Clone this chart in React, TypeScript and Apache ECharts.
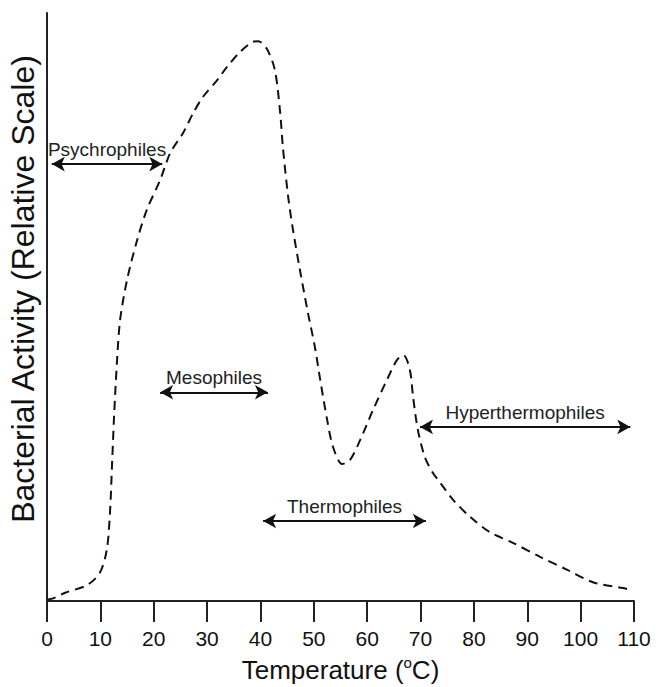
import React, { useEffect, useRef } from "react";
import * as echarts from "echarts";

const xTicks = [0, 10, 20, 30, 40, 50, 60, 70, 80, 90, 100, 110];

const temperature = [
  0, 1.3, 3.4, 7.5, 9.9, 11.2, 11.8, 12.2, 12.6, 13.1, 13.7, 15.0, 16.9, 18.7,
  21.2, 23.1, 25.5, 27.4, 29.2, 31.9, 33.7, 36.2, 38.6, 39.6, 41.2, 42.7, 43.7,
  44.2, 45.2, 46.1, 47.4, 48.9, 50.2, 51.2, 52.5, 53.6, 55.3, 56.8, 58.7, 61.1,
  63.7, 65.6, 66.8, 68.0, 68.6, 69.5, 70.8, 72.3, 73.7, 76.1, 79.3, 83.0, 87.3,
  92.4, 97.5, 102.3, 107.9, 108.9,
];

const activity = [
  0.2, 0.5, 1.4, 2.7, 4.8, 8.7, 15.0, 23.5, 32.0, 40.5, 47.8, 54.6, 61.4, 66.5,
  71.6, 76.2, 79.6, 83.0, 85.7, 88.6, 90.8, 93.4, 95.1, 95.2, 93.9, 90.3, 83.0,
  77.2, 68.7, 63.1, 56.3, 49.0, 43.2, 37.6, 30.8, 26.2, 23.3, 24.0, 27.4, 32.5,
  37.6, 41.0, 41.8, 39.3, 34.7, 29.1, 24.5, 21.8, 20.1, 17.2, 14.3, 11.7, 9.9,
  7.5, 5.3, 3.2, 2.2, 2.0,
];

const rangeNames = ["Psychrophiles", "Mesophiles", "Thermophiles", "Hyperthermophiles"];
const rangeStart = [0.9, 21.2, 40.5, 69.9];
const rangeEnd = [21.6, 41.4, 71.0, 109.3];
const rangeLevel = [74.3, 35.5, 13.6, 29.6];

const yTitle = "Bacterial Activity (Relative Scale)";

export default function App() {
  const ref = useRef<HTMLDivElement>(null);

  useEffect(() => {
    if (!ref.current) return;
    const chart = echarts.init(ref.current, null, { renderer: "svg" });
    const font = "Liberation Sans, Arial, Helvetica, sans-serif";
    const curve = temperature.map((t, i) => [t, activity[i]]);
    const markData = rangeNames.map((name, i) => [
      { name, coord: [rangeStart[i], rangeLevel[i]] },
      { coord: [rangeEnd[i], rangeLevel[i]] },
    ]);

    chart.setOption({
      animation: false,
      backgroundColor: "#ffffff",
      grid: {
        left: 47,
        right: 25,
        top: 13,
        bottom: 86,
        containLabel: false,
        outerBoundsMode: "none",
      },
      graphic: [
        {
          type: "text",
          x: 23,
          y: 289,
          rotation: Math.PI / 2,
          silent: true,
          style: {
            text: yTitle,
            fontFamily: font,
            fontSize: 32,
            fill: "#111",
            align: "center",
            verticalAlign: "middle",
          },
        },
      ],
      xAxis: {
        type: "value",
        min: 0,
        max: 110,
        interval: 10,
        name: "Temperature ({sup|o}C)",
        nameLocation: "middle",
        nameGap: 54,
        nameTextStyle: {
          fontFamily: font,
          fontSize: 26,
          color: "#111",
          lineHeight: 30,
          rich: {
            sup: {
              fontFamily: font,
              fontSize: 15,
              color: "#111",
              verticalAlign: "top",
              lineHeight: 16,
            },
          },
        },
        axisLine: { show: true, onZero: false, lineStyle: { color: "#222", width: 2 } },
        axisTick: { show: true, inside: false, length: 21, lineStyle: { color: "#222", width: 2 } },
        axisLabel: {
          fontFamily: font,
          fontSize: 21,
          color: "#111",
          margin: 27,
          formatter: (v: number) => (xTicks.includes(v) ? String(v) : ""),
        },
        splitLine: { show: false },
      },
      yAxis: {
        type: "value",
        min: 0,
        max: 100,
        axisLine: { show: true, onZero: false, lineStyle: { color: "#222", width: 2 } },
        axisTick: { show: false },
        axisLabel: { show: false },
        splitLine: { show: false },
      },
      series: [
        {
          type: "line",
          data: curve,
          smooth: 0.3,
          symbol: "none",
          lineStyle: { color: "#111", width: 2, type: [9, 6] },
          silent: true,
          markLine: {
            silent: true,
            symbol: ["arrow", "arrow"],
            symbolSize: [11, 13],
            lineStyle: { color: "#111", width: 2, type: "solid" },
            label: {
              show: true,
              position: "insideMiddleTop",
              distance: 5,
              formatter: "{b}",
              fontFamily: font,
              fontSize: 19,
              color: "#222",
            },
            emphasis: { disabled: true },
            data: markData,
          },
        },
      ],
    });

    return () => chart.dispose();
  }, []);

  return (
    <div
      ref={ref}
      style={{ position: "fixed", left: 0, top: 0, width: 659, height: 687 }}
    />
  );
}
